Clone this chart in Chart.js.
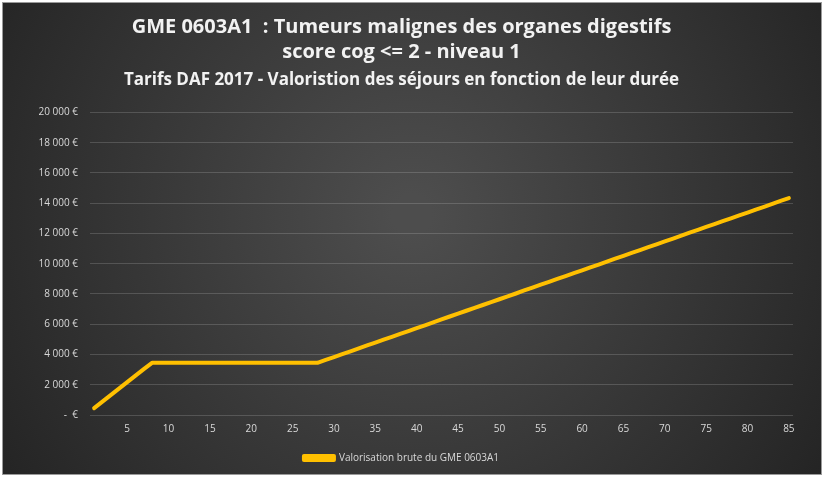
<!DOCTYPE html>
<html>
<head>
<meta charset="utf-8">
<script src="https://cdn.jsdelivr.net/npm/chart.js@4"></script>
<style>
  html, body { margin: 0; padding: 0; background: #fff; }
  #wrap { width: 824px; height: 477px; }
</style>
</head>
<body>
<div id="wrap"><canvas id="graphique" width="824" height="477"></canvas></div>
<script>
const titre = ['GME 0603A1  : Tumeurs malignes des organes digestifs', 'score cog <= 2 - niveau 1'];
const sousTitre = 'Tarifs DAF 2017 - Valoristion des séjours en fonction de leur durée';
const nomSerie = 'Valorisation brute du GME 0603A1';

// durée de séjour en jours
const jours = Array.from({ length: 85 }, (_, i) => i + 1);

// valorisation en euros
const valorisation = [
  450, 880, 1310, 1740, 2170, 2600, 3030, 3450,
  3450, 3450, 3450, 3450, 3450, 3450, 3450, 3450, 3450, 3450,
  3450, 3450, 3450, 3450, 3450, 3450, 3450, 3450, 3450, 3450,
  3640, 3830, 4020, 4210, 4400, 4600, 4790, 4980, 5170, 5360,
  5550, 5740, 5930, 6120, 6320, 6510, 6700, 6890, 7080, 7270,
  7460, 7650, 7840, 8030, 8230, 8420, 8610, 8800, 8990, 9180,
  9370, 9560, 9750, 9940, 10140, 10330, 10520, 10710, 10900, 11090,
  11280, 11470, 11660, 11850, 12050, 12240, 12430, 12620, 12810, 13000,
  13190, 13380, 13570, 13760, 13960, 14150, 14340
];

const yMax = 20000;
const yPas = 2000;

function euros(v) {
  if (v === 0) return '-  €';
  return v.toLocaleString('fr-FR').replace(/\u202f|\u00a0/g, ' ') + ' €';
}

const fond = {
  id: 'fond',
  beforeDraw(chart) {
    const c = chart.ctx;
    const w = chart.width, h = chart.height;
    c.save();
    c.fillStyle = '#ffffff';
    c.fillRect(0, 0, w, h);
    const g = c.createRadialGradient(w * 0.5, h * 0.45, 20, w * 0.5, h * 0.45, w * 0.62);
    g.addColorStop(0, '#4d4d4d');
    g.addColorStop(1, '#222222');
    c.fillStyle = g;
    c.fillRect(3, 3, w - 6, h - 6);
    c.strokeStyle = '#9a9a9a';
    c.lineWidth = 1;
    c.strokeRect(2.5, 2.5, w - 5, h - 5);
    c.restore();
  }
};

const ctx = document.getElementById('graphique').getContext('2d');
new Chart(ctx, {
  type: 'line',
  data: {
    labels: jours,
    datasets: [{
      label: nomSerie,
      data: valorisation,
      borderColor: '#FFC000',
      backgroundColor: '#FFC000',
      borderWidth: 4,
      pointRadius: 0,
      tension: 0,
      borderCapStyle: 'round',
      borderJoinStyle: 'round'
    }]
  },
  options: {
    responsive: false,
    animation: false,
    layout: { padding: { left: 10, right: 31, top: 8, bottom: 4 } },
    plugins: {
      title: {
        display: true,
        text: titre,
        color: '#f2f2f2',
        font: { family: 'Open Sans', size: 20, weight: 'bold', lineHeight: 1.25 },
        padding: { top: 7, bottom: 5 }
      },
      subtitle: {
        display: true,
        text: sousTitre,
        color: '#f2f2f2',
        font: { family: 'Open Sans', size: 17, weight: 'bold', lineHeight: 1.2 },
        padding: { top: 0, bottom: 22 }
      },
      legend: {
        position: 'bottom',
        labels: {
          color: '#d9d9d9',
          font: { family: 'Open Sans', size: 10 },
          boxWidth: 30,
          boxHeight: 4,
          padding: 10
        }
      },
      tooltip: { enabled: false }
    },
    scales: {
      x: {
        offset: true,
        grid: { display: false, drawTicks: false },
        border: { display: false },
        ticks: {
          autoSkip: false,
          maxRotation: 0,
          color: '#d9d9d9',
          font: { family: 'Open Sans', size: 10 },
          padding: 8,
          callback: function (v) {
            const j = jours[v];
            return j % 5 === 0 ? String(j) : '';
          }
        }
      },
      y: {
        min: 0,
        max: yMax,
        grid: { color: 'rgba(255,255,255,0.16)', drawTicks: false },
        border: { display: false },
        ticks: {
          stepSize: yPas,
          color: '#d9d9d9',
          font: { family: 'Open Sans', size: 10 },
          padding: 12,
          callback: (v) => euros(v)
        },
        afterFit: (s) => { s.width = 80; }
      }
    }
  },
  plugins: [fond]
});
</script>
</body>
</html>
